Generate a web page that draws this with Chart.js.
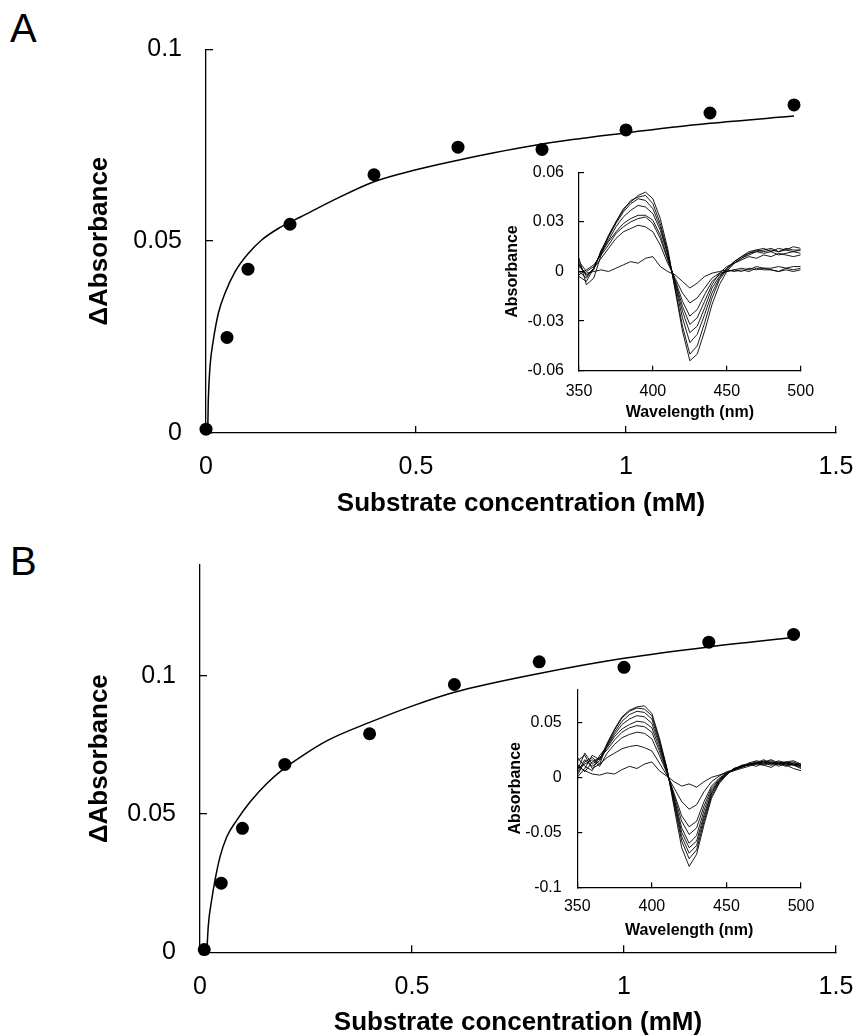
<!DOCTYPE html>
<html lang="en">
<head>
<meta charset="UTF-8">
<title>Substrate binding titration</title>
<script src="https://cdn.jsdelivr.net/npm/chart.js"></script>
<style>
  body { margin: 0; background: #fff; }
  #page { position: relative; width: 858px; height: 1036px; overflow: hidden;
          font-family: 'Liberation Sans', Arial, sans-serif; }
  canvas { position: absolute; }
  .panel { position: absolute; font-size: 40px; line-height: 1; color: #000; }
</style>
</head>
<body>
<div id="page">
  <div class="panel" style="left:10px; top:8px;">A</div>
  <div class="panel" style="left:10px; top:541px;">B</div>
  <canvas id="mainA" width="920" height="523" style="left:0; top:0;"></canvas>
  <canvas id="mainB" width="920" height="536" style="left:0; top:500px;"></canvas>
  <canvas id="insetA" width="380" height="300" style="left:480px; top:130px;"></canvas>
  <canvas id="insetB" width="380" height="310" style="left:480px; top:640px;"></canvas>
</div>
<script>
// ---- main titration data (mM vs delta absorbance) ----
const concA = [0, 0.05, 0.1, 0.2, 0.4, 0.6, 0.8, 1.0, 1.2, 1.4];
const dAbsA = [0.001, 0.0249, 0.0427, 0.0544, 0.0673, 0.0745, 0.0739, 0.079, 0.0834, 0.0855];
const fitXA = [0, 0.004, 0.0055, 0.0095, 0.0175, 0.0294, 0.0452, 0.069, 0.1008, 0.1325, 0.172, 0.212, 0.236, 0.3, 0.4, 0.5, 0.6, 0.8, 1.0, 1.2, 1.4];
const fitYA = [0, 0.0008, 0.0086, 0.0173, 0.0242, 0.0312, 0.0364, 0.042, 0.0468, 0.0503, 0.0533, 0.0556, 0.0569, 0.0605, 0.0655, 0.0686, 0.0711, 0.0753, 0.0782, 0.0807, 0.0826];

const concB = [0.01, 0.05, 0.1, 0.2, 0.4, 0.6, 0.8, 1.0, 1.2, 1.4];
const dAbsB = [0.001, 0.025, 0.0448, 0.0679, 0.079, 0.0968, 0.105, 0.103, 0.1121, 0.1149];
const fitXB = [0.016, 0.0197, 0.0275, 0.0354, 0.0472, 0.063, 0.0865, 0.118, 0.157, 0.197, 0.236, 0.3, 0.4, 0.5, 0.6, 0.8, 1.0, 1.2, 1.4];
const fitYB = [0, 0.0098, 0.0189, 0.0261, 0.0345, 0.0417, 0.0477, 0.0543, 0.0609, 0.0663, 0.0705, 0.0765, 0.0831, 0.089, 0.094, 0.1008, 0.1063, 0.1104, 0.1138];

const concTicks = [0, 0.5, 1, 1.5];
const dAbsTicksA = [0, 0.05, 0.1];
const dAbsTicksB = [0, 0.05, 0.1];

// ---- difference spectra (insets) ----
const wavelengths = [350, 355, 360, 365, 370, 375, 380, 385, 390, 395, 400, 405, 410, 415, 420, 425, 430, 435, 440, 445, 450, 455, 460, 465, 470, 475, 480, 485, 490, 495, 500];
const wlTicks = [350, 400, 450, 500];

const spectraA = [
  [0.003, -0.001, 0.000, 0.001, 0.000, 0.002, 0.004, 0.006, 0.005, 0.008, 0.009, 0.003, 0.000, -0.002, -0.006, -0.010, -0.007, -0.003, -0.001, 0.000, 0.001, 0.000, 0.001, 0.000, 0.002, 0.001, 0.001, 0.000, 0.001, 0.000, 0.001],
  [0.005, -0.003, 0.002, 0.008, 0.014, 0.020, 0.024, 0.026, 0.028, 0.027, 0.024, 0.016, 0.005, -0.004, -0.013, -0.019, -0.016, -0.010, -0.004, -0.001, 0.000, 0.001, 0.000, 0.002, 0.001, 0.002, 0.001, 0.000, 0.002, 0.001, 0.002],
  [-0.002, 0.001, 0.004, 0.010, 0.016, 0.023, 0.027, 0.030, 0.032, 0.033, 0.029, 0.020, 0.007, -0.005, -0.018, -0.027, -0.023, -0.014, -0.006, -0.002, 0.000, 0.001, 0.002, 0.001, 0.003, 0.002, 0.002, 0.003, 0.002, 0.003, 0.003],
  [0.006, 0.000, 0.003, 0.011, 0.018, 0.024, 0.029, 0.032, 0.034, 0.034, 0.031, 0.022, 0.008, -0.006, -0.021, -0.032, -0.028, -0.018, -0.008, -0.001, 0.003, 0.005, 0.007, 0.009, 0.008, 0.010, 0.009, 0.011, 0.010, 0.009, 0.010],
  [0.000, -0.004, 0.002, 0.012, 0.019, 0.027, 0.033, 0.037, 0.040, 0.039, 0.035, 0.025, 0.010, -0.007, -0.024, -0.037, -0.033, -0.022, -0.010, -0.003, 0.002, 0.005, 0.008, 0.010, 0.012, 0.011, 0.012, 0.010, 0.011, 0.012, 0.011],
  [0.004, -0.002, 0.001, 0.013, 0.021, 0.029, 0.036, 0.041, 0.044, 0.043, 0.038, 0.027, 0.011, -0.008, -0.028, -0.043, -0.038, -0.026, -0.013, -0.004, 0.002, 0.006, 0.009, 0.011, 0.013, 0.012, 0.013, 0.012, 0.014, 0.013, 0.013],
  [-0.003, -0.006, 0.002, 0.012, 0.022, 0.030, 0.037, 0.043, 0.045, 0.046, 0.041, 0.029, 0.012, -0.010, -0.033, -0.050, -0.045, -0.031, -0.016, -0.005, 0.001, 0.006, 0.009, 0.012, 0.013, 0.014, 0.012, 0.014, 0.013, 0.015, 0.014],
  [0.008, -0.008, -0.004, 0.010, 0.021, 0.030, 0.038, 0.042, 0.046, 0.048, 0.044, 0.032, 0.014, -0.011, -0.036, -0.054, -0.050, -0.036, -0.020, -0.008, 0.000, 0.005, 0.008, 0.011, 0.012, 0.013, 0.014, 0.012, 0.013, 0.012, 0.013]
];
const absTicksA = [-0.06, -0.03, 0, 0.03, 0.06];

const spectraB = [
  [0.010, 0.006, 0.003, 0.002, 0.004, 0.003, 0.007, 0.010, 0.008, 0.012, 0.014, 0.006, 0.001, -0.004, -0.008, -0.006, -0.009, -0.004, 0.000, 0.002, 0.004, 0.006, 0.008, 0.010, 0.012, 0.011, 0.009, 0.013, 0.011, 0.008, 0.006],
  [0.015, 0.020, 0.008, 0.012, 0.018, 0.022, 0.026, 0.028, 0.029, 0.027, 0.024, 0.013, 0.002, -0.010, -0.022, -0.029, -0.025, -0.013, -0.004, 0.001, 0.005, 0.007, 0.009, 0.012, 0.010, 0.013, 0.011, 0.012, 0.010, 0.012, 0.009],
  [0.008, 0.012, 0.016, 0.010, 0.022, 0.030, 0.036, 0.039, 0.041, 0.040, 0.035, 0.020, 0.004, -0.015, -0.035, -0.045, -0.040, -0.022, -0.008, -0.001, 0.004, 0.007, 0.010, 0.011, 0.013, 0.012, 0.014, 0.010, 0.013, 0.011, 0.010],
  [0.012, 0.005, 0.014, 0.018, 0.025, 0.034, 0.041, 0.045, 0.047, 0.046, 0.041, 0.024, 0.005, -0.017, -0.040, -0.052, -0.046, -0.026, -0.010, -0.002, 0.003, 0.008, 0.009, 0.012, 0.014, 0.011, 0.013, 0.012, 0.014, 0.012, 0.011],
  [0.004, 0.016, 0.010, 0.015, 0.027, 0.037, 0.044, 0.048, 0.051, 0.050, 0.045, 0.027, 0.006, -0.019, -0.046, -0.060, -0.053, -0.030, -0.012, -0.003, 0.004, 0.006, 0.010, 0.011, 0.013, 0.014, 0.012, 0.013, 0.011, 0.013, 0.012],
  [0.018, 0.010, 0.006, 0.020, 0.028, 0.039, 0.048, 0.053, 0.056, 0.055, 0.049, 0.030, 0.007, -0.021, -0.050, -0.064, -0.058, -0.034, -0.014, -0.003, 0.003, 0.007, 0.009, 0.012, 0.012, 0.015, 0.013, 0.014, 0.012, 0.011, 0.008],
  [0.006, 0.022, 0.012, 0.017, 0.029, 0.041, 0.051, 0.057, 0.060, 0.059, 0.053, 0.032, 0.008, -0.023, -0.054, -0.069, -0.062, -0.037, -0.015, -0.004, 0.002, 0.008, 0.010, 0.011, 0.014, 0.013, 0.015, 0.012, 0.013, 0.014, 0.010],
  [0.002, 0.014, 0.018, 0.012, 0.030, 0.043, 0.054, 0.060, 0.063, 0.062, 0.056, 0.034, 0.008, -0.025, -0.058, -0.074, -0.066, -0.040, -0.017, -0.005, 0.003, 0.007, 0.011, 0.012, 0.013, 0.016, 0.012, 0.015, 0.013, 0.012, 0.011],
  [0.000, 0.008, 0.020, 0.016, 0.031, 0.044, 0.055, 0.061, 0.064, 0.065, 0.058, 0.036, 0.009, -0.028, -0.064, -0.081, -0.070, -0.043, -0.019, -0.006, 0.002, 0.008, 0.010, 0.013, 0.015, 0.014, 0.016, 0.013, 0.014, 0.015, 0.012]
];
const absTicksB = [-0.1, -0.05, 0, 0.05];

Chart.defaults.font.family = "'Liberation Sans', Arial, sans-serif";
Chart.defaults.color = '#000';

function pairs(xs, ys) {
  return xs.map((x, i) => ({ x: x, y: ys[i] }));
}

function fixedTicks(list) {
  return scale => { scale.ticks = list.map(v => ({ value: v })); };
}

// axis with tick marks pointing into the plot (negative tick length)
function axis(o) {
  return {
    type: 'linear',
    min: o.min,
    max: o.max,
    afterBuildTicks: fixedTicks(o.ticks),
    afterFit: o.fit,
    border: { color: '#000', width: o.lw },
    grid: { drawOnChartArea: false, drawTicks: true, tickLength: -o.tl, color: '#000', lineWidth: o.lw },
    ticks: { padding: o.pad, font: { size: o.fs }, color: '#000', maxRotation: 0, autoSkip: false,
             callback: v => String(v) },
    title: { display: true, text: o.title, color: '#000',
             font: { size: o.tfs, weight: 'bold', lineHeight: 1 }, padding: o.tpad }
  };
}

function mainChart(id, o) {
  return new Chart(document.getElementById(id), {
    type: 'scatter',
    data: {
      datasets: [
        { data: pairs(o.px, o.py), pointRadius: 6.5, pointBackgroundColor: '#000',
          pointBorderWidth: 0, showLine: false, clip: false },
        { data: pairs(o.cx, o.cy), showLine: true, pointRadius: 0, borderColor: '#000',
          borderWidth: 1.5, cubicInterpolationMode: 'monotone', clip: false }
      ]
    },
    options: {
      responsive: false, animation: false, events: [],
      // canvas is wider than the page; right padding puts the plot edge at x=836
      layout: { padding: { left: 0, top: o.padTop, right: 84, bottom: 0 } },
      plugins: { legend: { display: false }, tooltip: { enabled: false } },
      scales: {
        x: axis({ min: 0, max: 1.5, ticks: concTicks, fit: s => { s.height = o.xH; },
                  lw: 1.3, tl: 7, pad: 26.4, fs: 25, title: 'Substrate concentration (mM)',
                  tfs: 26, tpad: { top: 0, bottom: o.xTitlePad } }),
        y: axis({ min: 0, max: o.yMax, ticks: o.yTicks, fit: s => { s.width = o.yW; },
                  lw: 1.3, tl: 7, pad: 31, fs: 25, title: 'ΔAbsorbance',
                  tfs: 26, tpad: { top: 87, bottom: 0 } })
      }
    }
  });
}

function insetChart(id, o) {
  return new Chart(document.getElementById(id), {
    type: 'scatter',
    data: {
      datasets: o.spectra.map(s => ({
        data: pairs(wavelengths, s), showLine: true, pointRadius: 0,
        borderColor: '#000', borderWidth: 0.9, tension: 0
      }))
    },
    options: {
      responsive: false, animation: false, events: [],
      layout: { padding: { left: 0, top: o.padTop, right: o.padRight, bottom: 0 } },
      plugins: { legend: { display: false }, tooltip: { enabled: false } },
      scales: {
        x: axis({ min: 350, max: 500, ticks: wlTicks, fit: s => { s.height = o.xH; },
                  lw: 1.2, tl: 5, pad: o.xPad, fs: 16, title: 'Wavelength (nm)',
                  tfs: 16, tpad: { top: 0, bottom: o.xTitlePad } }),
        y: axis({ min: o.yMin, max: o.yMax, ticks: o.yTicks, fit: s => { s.width = o.yW; },
                  lw: 1.2, tl: 5, pad: o.yPad, fs: 16, title: 'Absorbance',
                  tfs: 16, tpad: { top: o.yTitlePad, bottom: 0 } })
      }
    }
  });
}

mainChart('mainA', {
  px: concA, py: dAbsA, cx: fitXA, cy: fitYA,
  yMax: 0.1, yTicks: dAbsTicksA, padTop: 49.3, xH: 90, yW: 206, xTitlePad: 6
});

mainChart('mainB', {
  px: concB, py: dAbsB, cx: fitXB, cy: fitYB,
  yMax: 0.14, yTicks: dAbsTicksB, padTop: 65, xH: 83.7, yW: 200, xTitlePad: 0
});

insetChart('insetA', {
  spectra: spectraA, yMin: -0.06, yMax: 0.06, yTicks: absTicksA,
  padTop: 42.3, padRight: 59.3, xH: 59.3, yW: 99,
  xPad: 16.4, yPad: 20, xTitlePad: 9, yTitlePad: 25
});

insetChart('insetB', {
  spectra: spectraB, yMin: -0.1, yMax: 0.08, yTicks: absTicksB,
  padTop: 49.3, padRight: 59, xH: 62.7, yW: 97.3,
  xPad: 14.8, yPad: 20.6, xTitlePad: 11.3, yTitlePad: 28
});
</script>
</body>
</html>
